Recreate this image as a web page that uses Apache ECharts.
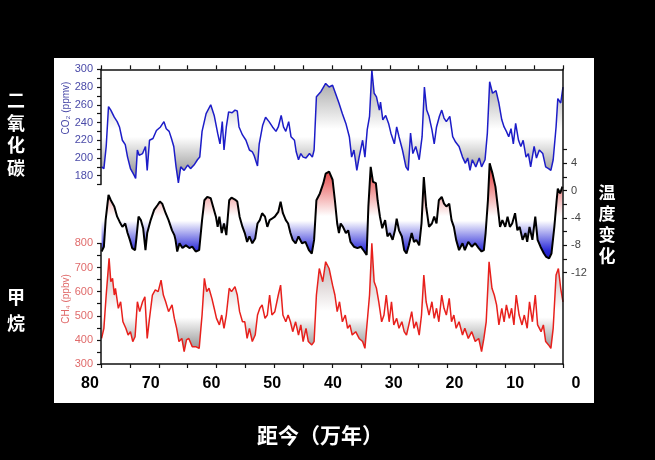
<!DOCTYPE html>
<html><head><meta charset="utf-8">
<script src="https://cdn.jsdelivr.net/npm/echarts@6/dist/echarts.min.js"></script>
<style>html,body{margin:0;padding:0;background:#000;}#c{width:655px;height:460px;}</style>
</head><body><div id="c"></div>
<script>
// ---- data (age in 万年, values) ----
const ageCO2 = [79.9,79.5,79.1,78.7,78.3,77.7,77.2,76.8,76.3,75.8,75.4,74.9,74.3,74.0,73.7,73.4,72.8,72.3,72.0,71.6,71.0,70.4,69.7,69.1,68.7,68.2,67.8,67.4,67.0,66.6,66.2,65.6,65.0,64.5,63.9,63.3,62.9,62.5,61.8,61.0,60.4,59.8,59.4,59.0,58.7,58.3,57.9,57.3,56.8,56.4,56.1,55.5,54.9,54.3,53.8,53.5,52.9,52.6,52.0,51.5,50.9,50.3,49.7,49.3,48.8,48.4,48.0,47.5,47.1,46.5,46.2,45.8,45.4,45.0,44.5,43.9,43.4,43.1,42.7,41.9,41.1,40.5,39.9,39.4,38.8,38.2,37.6,37.0,36.6,36.2,35.7,35.3,34.7,34.3,33.9,33.5,33.1,32.7,32.3,31.8,31.6,31.2,30.7,30.2,29.8,29.2,28.8,28.4,27.8,27.2,26.8,26.4,26.0,25.5,24.9,24.4,24.0,23.6,23.2,22.7,22.3,21.9,21.4,21.0,20.6,20.2,19.6,19.1,18.6,18.0,17.4,16.9,16.5,16.1,15.7,15.1,14.5,14.1,13.5,13.1,12.7,12.2,11.6,11.1,10.6,10.2,9.8,9.4,9.0,8.6,8.2,7.7,7.3,6.9,6.4,6.0,5.6,5.0,4.6,4.1,3.5,3.0,2.5,2.1,1.7,1.2,0.9,0.4,0.0];
const co2 = [190,188,213,258,254,246,241,235,220,215,201,188,181,177,209,203,205,213,186,220,222,231,235,241,233,230,222,213,190,172,190,186,192,188,192,198,201,230,250,260,248,228,216,241,209,235,252,251,254,253,235,226,220,209,207,203,191,216,237,246,241,235,230,235,248,235,230,241,224,220,207,198,205,201,200,205,201,209,269,275,284,280,282,273,262,250,239,224,201,209,186,201,220,201,232,247,299,273,269,254,263,243,248,239,228,216,235,224,209,190,186,228,205,213,198,224,280,254,247,232,216,235,247,254,245,241,247,224,218,213,201,194,200,186,198,190,200,190,198,228,286,273,276,262,243,235,230,224,233,216,239,220,213,220,201,205,190,213,200,209,205,190,188,186,198,235,267,262,280];

const ageTemp = [79.9,79.5,79.2,78.7,78.3,77.7,77.2,76.8,76.3,75.8,75.4,75.0,74.6,74.1,73.9,73.5,73.1,72.7,72.3,72.0,71.4,70.8,70.2,69.8,69.4,68.8,68.3,67.7,67.3,67.1,66.8,66.4,65.9,65.3,64.7,64.2,63.6,63.0,62.5,62.1,61.6,61.0,60.6,60.1,59.8,59.5,59.1,58.7,58.3,57.8,57.4,56.8,56.4,56.0,55.5,55.1,54.7,54.3,53.8,53.3,52.9,52.5,52.1,51.6,51.2,50.8,50.4,49.9,49.3,48.9,48.5,48.0,47.6,47.2,46.8,46.3,45.8,45.2,44.6,44.0,43.5,43.1,42.7,42.1,41.5,41.1,40.5,39.9,39.5,39.1,38.8,38.5,38.1,37.6,37.2,36.8,36.2,35.6,35.0,34.4,34.0,33.7,33.3,32.9,32.4,32.1,31.7,31.3,30.8,30.4,30.0,29.5,29.1,28.8,28.4,27.9,27.5,27.1,26.7,26.2,25.8,25.4,24.9,24.5,24.1,23.7,23.2,22.7,22.3,21.9,21.5,21.0,20.6,20.2,19.7,19.3,18.9,18.5,18.0,17.4,17.0,16.4,15.8,15.2,14.6,14.1,13.7,13.4,13.0,12.7,12.2,11.7,11.3,10.9,10.5,10.0,9.6,9.2,8.8,8.3,7.9,7.5,7.0,6.5,6.2,5.8,5.3,4.8,4.4,3.9,3.3,2.9,2.4,2.0,1.5,1.1,0.9,0.5,0.1];
const temp = [-8.9,-8.2,-4.3,-0.6,-1.4,-2.3,-3.8,-4.5,-5.3,-4.8,-6.2,-7.2,-8.4,-8.7,-7.2,-3.8,-4.3,-5.5,-8.7,-6.2,-4.3,-2.8,-2.1,-1.6,-1.9,-3.3,-4.3,-5.8,-6.5,-7.2,-8.9,-7.7,-8.4,-8.0,-8.4,-8.2,-8.9,-8.7,-4.3,-1.4,-0.9,-1.1,-2.3,-3.8,-5.3,-3.8,-6.2,-4.8,-6.5,-1.4,-1.0,-1.3,-1.6,-3.8,-5.3,-6.2,-7.5,-6.7,-7.7,-7.0,-4.8,-4.3,-3.3,-3.8,-5.3,-4.3,-4.1,-3.8,-3.1,-1.6,-3.3,-4.3,-4.8,-6.2,-7.2,-7.7,-6.7,-7.7,-7.5,-8.7,-9.2,-7.2,-1.4,-0.4,1.1,2.5,2.8,1.6,-1.4,-4.8,-6.2,-4.8,-5.3,-6.2,-5.8,-7.5,-8.2,-8.4,-8.2,-8.9,-9.4,-2.3,3.5,1.3,1.1,-1.4,-3.8,-5.5,-4.3,-6.7,-6.2,-7.2,-5.8,-4.1,-5.8,-6.7,-8.7,-9.2,-8.0,-6.2,-7.5,-7.2,-8.0,-4.8,2.0,-2.3,-5.3,-4.8,-3.8,-4.8,-1.4,-0.9,-1.9,-2.3,-1.9,-4.3,-5.3,-7.2,-8.7,-7.7,-8.7,-7.5,-8.2,-7.7,-8.4,-8.9,-8.7,-6.2,-1.4,4.0,2.5,0.6,-2.3,-5.3,-4.3,-5.3,-3.8,-5.3,-4.8,-3.3,-5.8,-5.3,-7.2,-6.2,-7.5,-5.3,-7.2,-3.8,-7.2,-8.2,-9.2,-9.7,-9.9,-9.2,-5.3,-1.4,0.3,-0.4,0.6];

const ageCH4 = [79.9,79.5,79.1,78.6,78.3,78.0,77.7,77.5,77.0,76.6,76.2,75.7,75.3,74.9,74.5,74.1,73.7,73.3,72.8,72.4,72.0,71.6,71.1,70.6,70.1,69.6,69.2,68.8,68.3,67.7,67.3,66.9,66.5,66.0,65.6,65.2,64.8,64.2,63.6,63.0,62.5,62.1,61.7,61.3,60.8,60.4,60.0,59.5,59.1,58.7,58.3,57.8,57.4,56.8,56.4,56.0,55.5,55.1,54.7,54.3,53.8,53.3,52.9,52.5,52.1,51.6,51.2,50.8,50.4,49.9,49.3,48.9,48.5,48.0,47.6,47.2,46.8,46.3,45.8,45.4,45.0,44.5,44.1,43.5,43.1,42.7,42.2,41.6,41.1,40.5,39.9,39.5,39.1,38.7,38.2,37.7,37.3,36.9,36.5,35.9,35.3,34.7,34.3,33.9,33.5,33.1,32.7,32.3,31.9,31.4,31.0,30.6,30.1,29.7,29.3,28.8,28.4,27.9,27.5,27.1,26.7,26.2,25.8,25.4,24.9,24.5,24.1,23.7,23.2,22.7,22.3,21.9,21.5,21.0,20.6,20.2,19.7,19.3,18.9,18.5,18.0,17.4,17.0,16.4,15.8,15.2,14.6,14.1,13.7,13.3,12.8,12.3,11.9,11.5,11.1,10.6,10.2,9.8,9.3,8.9,8.5,8.1,7.6,7.1,6.7,6.2,5.8,5.3,4.8,4.4,3.8,3.4,3.0,2.5,2.1,1.7,1.2,0.8,0.4,0.0];
const ch4 = [406,448,586,738,641,655,586,614,531,558,475,448,420,434,393,413,558,517,558,579,406,489,586,607,600,648,586,558,517,545,489,448,393,406,351,400,406,372,372,365,503,655,600,614,572,531,489,462,503,448,503,614,600,621,586,517,475,475,406,448,393,420,503,531,545,489,503,586,503,517,586,627,503,475,503,475,434,475,420,462,393,448,393,379,393,586,696,641,724,696,627,586,517,558,475,503,448,462,420,434,406,393,365,475,586,800,641,614,558,475,503,586,475,558,462,489,448,475,434,420,462,517,448,475,420,503,669,558,503,558,489,531,475,586,531,503,572,475,503,448,475,420,448,406,434,393,406,351,406,475,724,614,586,545,462,531,475,545,489,531,462,586,503,462,503,448,558,475,586,462,434,462,393,379,365,448,669,696,614,558];

// ---- tick labels ----
const xLabelValues = [80,70,60,50,40,30,20,10,0];
const co2LabelValues = [180,200,220,240,260,280,300];
const ch4LabelValues = [300,400,500,600,700,800];
const tempLabelValues = [-12,-8,-4,0,4];

const chart = echarts.init(document.getElementById('c'), null, {renderer:'canvas'});
const G = (y1,y2,stops)=> new echarts.graphic.LinearGradient(0,y1,0,y2,stops,true);
const axLine = {show:true, onZero:false, lineStyle:{color:'#111', width:1.5}};
const tick = {show:true, inside:false, length:4, lineStyle:{color:'#111', width:1.2}};
const PL = 101, PW = 462, PT = 69.3, PH = 294.7;
const lblFont = '"Liberation Sans", Arial';

const option = {
  backgroundColor:'#000',
  animation:false,
  graphic:{elements:[
    {type:'rect', z:-10, shape:{x:54,y:58,width:540,height:345}, style:{fill:'#fff'}},
    {type:'text', x:16, y:134, style:{text:'二\n氧\n化\n碳', fill:'#fff', font:'bold 18px "Noto Sans CJK SC"', align:'center', verticalAlign:'middle', lineHeight:22.5}},
    {type:'text', x:16, y:310, style:{text:'甲\n烷', fill:'#fff', font:'bold 18px "Noto Sans CJK SC"', align:'center', verticalAlign:'middle', lineHeight:26}},
    {type:'text', x:607, y:224, style:{text:'温\n度\n变\n化', fill:'#fff', font:'bold 17px "Noto Sans CJK SC"', align:'center', verticalAlign:'middle', lineHeight:21}},
    {type:'text', x:320, y:435, style:{text:'距今（万年）', fill:'#fff', font:'bold 21px "Noto Sans CJK SC"', align:'center', verticalAlign:'middle'}},
    {type:'text', x:66, y:108, rotation:Math.PI/2, style:{text:'CO₂ (ppmv)', fill:'#4a4aa8', font:'10px "Liberation Sans", "DejaVu Sans"', align:'center', verticalAlign:'middle'}},
    {type:'text', x:66, y:299, rotation:Math.PI/2, style:{text:'CH₄ (ppbv)', fill:'#e06b6b', font:'10px "Liberation Sans", "DejaVu Sans"', align:'center', verticalAlign:'middle'}}
  ]},
  grid:[
    {left:PL, width:PW, top:PT, height:115.3},          // CO2
    {left:PL, width:PW, top:PT, height:PH},             // temperature + frame
    {left:PL, width:PW, top:243.4, height:120.6},       // CH4
    {left:90, width:486, top:PT, height:PH},            // age labels
    {left:PL, width:PW, top:149.7, height:122.9}        // temperature ticks (6 .. -12)
  ],
  xAxis:[
    {gridIndex:0, type:'value', min:0, max:80, inverse:true, show:false},
    {gridIndex:1, zlevel:1, z:10, type:'value', min:0, max:80, interval:5, inverse:true, position:'bottom', axisLine:axLine, axisTick:tick, axisLabel:{show:false}, splitLine:{show:false}},
    {gridIndex:1, zlevel:1, z:10, type:'value', min:0, max:80, interval:5, inverse:true, position:'top', axisLine:axLine, axisTick:tick, axisLabel:{show:false}, splitLine:{show:false}},
    {gridIndex:2, type:'value', min:0, max:80, inverse:true, show:false},
    {gridIndex:3, zlevel:1, z:10, type:'value', min:0, max:80, interval:10, inverse:true, position:'bottom', axisLine:{show:false, onZero:false}, axisTick:{show:false}, splitLine:{show:false},
      axisLabel:{show:true, showMinLabel:true, showMaxLabel:true, margin:12, color:'#000', fontSize:16, fontWeight:'bold', fontFamily:lblFont,
        formatter:v=> xLabelValues.includes(v) ? String(v) : ''}},
    {gridIndex:4, type:'value', min:0, max:80, inverse:true, show:false}
  ],
  yAxis:[
    {gridIndex:0, zlevel:1, z:10, type:'value', min:170, max:300, interval:10, position:'left', axisLine:axLine, axisTick:tick, splitLine:{show:false},
      axisLabel:{margin:8, color:'#4a4aa8', fontSize:11, fontFamily:lblFont, showMinLabel:true, showMaxLabel:true,
        formatter:v=> co2LabelValues.includes(v) ? String(v) : ''}},
    {gridIndex:1, zlevel:1, z:10, type:'value', min:-25.37, max:17.77, position:'right', axisLine:axLine, axisTick:{show:false}, axisLabel:{show:false}, splitLine:{show:false}},
    {gridIndex:2, zlevel:1, z:10, type:'value', min:300, max:800, interval:50, position:'left', axisLine:axLine, axisTick:tick, splitLine:{show:false},
      axisLabel:{margin:8, color:'#e06b6b', fontSize:11, fontFamily:lblFont, showMinLabel:true, showMaxLabel:true,
        formatter:v=> ch4LabelValues.includes(v) ? String(v) : ''}},
    {gridIndex:3, type:'value', show:false, min:0, max:1},
    {gridIndex:4, zlevel:1, z:10, type:'value', min:-12, max:6, interval:2, position:'right', axisLine:{show:false, onZero:false}, axisTick:tick, splitLine:{show:false},
      axisLabel:{margin:8, color:'#444', fontSize:11, fontFamily:lblFont, showMinLabel:true, showMaxLabel:true,
        formatter:v=> tempLabelValues.includes(v) ? String(v) : ''}}
  ],
  series:[
    {type:'line', xAxisIndex:0, yAxisIndex:0, symbol:'none', z:3,
      data: ageCO2.map((t,i)=>[t, co2[i]]),
      lineStyle:{color:'#1c1cc8', width:1.5},
      areaStyle:{origin:226, opacity:1, color:G(80,178,[{offset:0,color:'#a8a8a8'},{offset:0.5,color:'#ffffff'},{offset:0.58,color:'#ffffff'},{offset:1,color:'#8e8e8e'}])}},
    {type:'line', xAxisIndex:1, yAxisIndex:1, symbol:'none', z:3,
      data: ageTemp.map((t,i)=>[t, temp[i]]),
      lineStyle:{color:'#000', width:2},
      areaStyle:{origin:-4.3, opacity:1, color:G(165,258,[{offset:0,color:'#e23030'},{offset:0.55,color:'#ffffff'},{offset:0.6,color:'#ffffff'},{offset:0.92,color:'#2c2cd8'},{offset:1,color:'#1c1cc0'}])}},
    {type:'line', xAxisIndex:3, yAxisIndex:2, symbol:'none', z:3,
      data: ageCH4.map((t,i)=>[t, ch4[i]]),
      lineStyle:{color:'#e8201c', width:1.5},
      areaStyle:{origin:496, opacity:1, color:G(250,352,[{offset:0,color:'#b8a8a8'},{offset:0.6,color:'#ffffff'},{offset:0.66,color:'#ffffff'},{offset:1,color:'#8a8a8a'}])}}
  ]
};
chart.setOption(option);
</script></body></html>
